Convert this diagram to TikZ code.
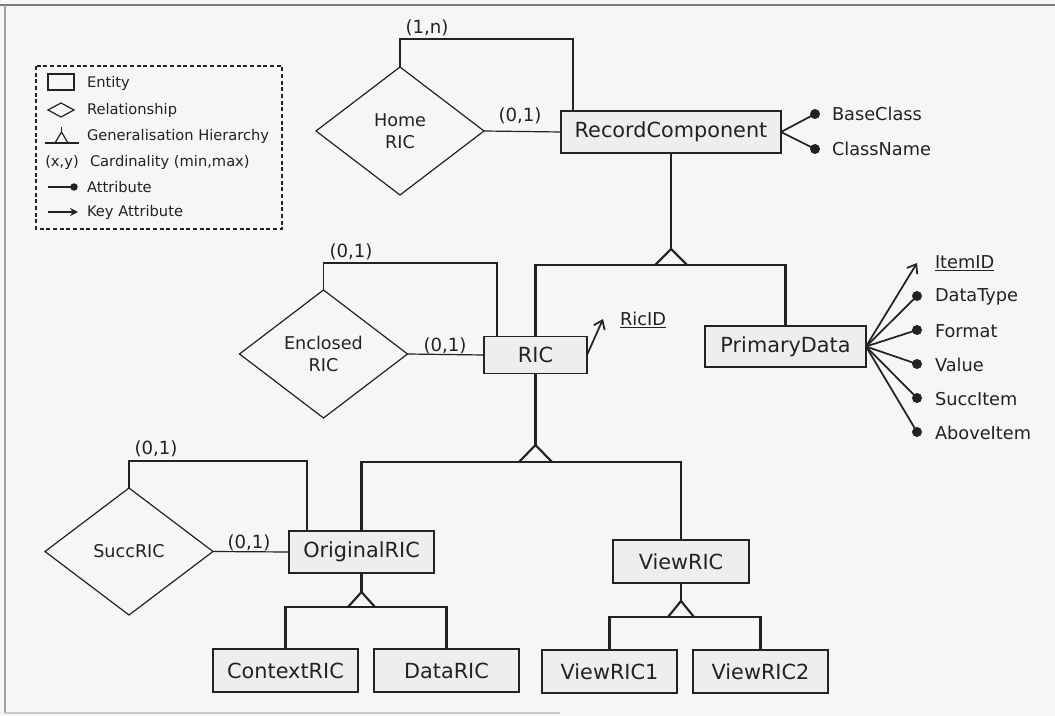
\documentclass[tikz,border=0pt]{standalone}
\usepackage{fontspec}
\setmainfont{DejaVu Sans}
\usetikzlibrary{shapes.geometric,arrows.meta}
\definecolor{ink}{HTML}{222222}
\definecolor{paper}{HTML}{F6F6F6}
\definecolor{boxfill}{HTML}{EEEEEE}
\definecolor{framegray}{HTML}{7A7A7A}
\begin{document}
\begin{tikzpicture}[x=0.75pt,y=-0.75pt,
  every node/.style={text=ink,outer sep=0pt},
  entity/.style={draw=ink,fill=boxfill,line width=1pt,inner sep=0pt,
    font=\fontsize{15.6}{18}\selectfont},
  rel/.style={diamond,draw=ink,line width=0.9pt,inner sep=0pt,aspect=1.3,
    minimum width=126pt,minimum height=96pt,align=center,
    font=\fontsize{13.2}{16.5}\selectfont},
  link/.style={draw=ink,line width=0.9pt},
  gen/.style={draw=ink,line width=1.6pt},
  attr/.style={draw=ink,line width=1.3pt},
  card/.style={font=\fontsize{13.6}{16}\selectfont,inner sep=0pt},
  attrtext/.style={font=\fontsize{13.3}{16}\selectfont,anchor=west,inner sep=0pt},
  legtext/.style={font=\fontsize{11}{13}\selectfont,anchor=west,inner sep=0pt},
  dot/.style={circle,fill=ink,inner sep=0pt,minimum size=7.5pt},
  keyarrow/.style={draw=ink,line width=1.3pt,
    -{Straight Barb[length=6pt,width=9pt,line width=1.3pt]}},
]
% page and frame
\fill[paper] (0,0) rectangle (1055,716);
\useasboundingbox (0,0) rectangle (1055,716);
\draw[framegray,line width=1.2pt] (0,5) -- (1055,5);
\draw[framegray!70,line width=1pt] (5,5) -- (5,713);
\draw[framegray!40,line width=1pt] (5,713) -- (560,713);

% legend
\draw[ink,line width=1pt,dash pattern=on 3pt off 2pt] (36,66) rectangle (282,229);
\draw[ink,line width=0.9pt] (48,74) rectangle (74,90);
\node[legtext] (lg1) at (87,83) {Entity};
\draw[ink,line width=0.9pt] (48,110) -- (61,103) -- (74,110) -- (61,117) -- cycle;
\node[legtext] (lg2) at (87,110) {Relationship};
\draw[ink,line width=0.9pt] (45,143) -- (79,143);
\draw[ink,line width=0.9pt] (55,143) -- (61.5,132) -- (68,143);
\draw[ink,line width=0.9pt] (61.5,132) -- (61.5,127);
\node[legtext] (lg3) at (87,136) {Generalisation Hierarchy};
\node[legtext,anchor=center] (lg4a) at (62,162) {(x,y)};
\node[legtext] (lg4) at (90,162) {Cardinality (min,max)};
\draw[ink,line width=1pt] (48,187) -- (74,187);
\fill[ink] (74,187) circle (2.8pt);
\node[legtext] (lg5) at (87,187) {Attribute};
\draw[ink,line width=1pt,-{Stealth[length=6pt,width=6pt]}] (48,212) -- (78,212);
\node[legtext] (lg6) at (87,212) {Key Attribute};

% RecordComponent and its Home RIC relationship
\node[entity,minimum width=165pt,minimum height=31.5pt] (rc) at (671,132) {RecordComponent};
\node[rel] (hr) at (400,131) {Home\\RIC};
\draw[link] (hr.east) -- (rc.west);
\draw[link] (hr.north) -- ++(0,-28) -| ([xshift=9pt]rc.north west);
\node[card] (c1) at (427,28) {(1,n)};
\node[card] (c2) at (520,116) {(0,1)};

\node[attrtext] (bc) at (832,114) {BaseClass};
\node[attrtext] (cn) at (832,149) {ClassName};
\node[dot] (d1) at (815,114) {};
\node[dot] (d2) at (815,149) {};
\draw[attr] (rc.east) -- (d1.center);
\draw[attr] (rc.east) -- (d2.center);

% RIC and PrimaryData
\node[entity,minimum width=77.25pt,minimum height=27.75pt] (ric) at (535.5,355) {RIC};
\node[entity,minimum width=120.75pt,minimum height=30.75pt] (pd) at (785.5,346.5) {PrimaryData};

\coordinate (g1) at (671,249);
\coordinate (h1) at (671,265);
\draw[gen] (rc.south) -- (g1);
\draw[gen] (g1) ++(-16,16) -- (g1) -- ++(16,16);
\draw[gen] (ric.north) |- (h1) -| (pd.north);

\node[attrtext] (ricid) at (620,320) {\underline{RicID}};
\coordinate (k1) at (603,319);
\draw[keyarrow] (ric.east) -- (k1);

\node[attrtext] (a1) at (935,263) {\underline{ItemID}};
\node[attrtext] (a2) at (935,297) {DataType};
\node[attrtext] (a3) at (935,331) {Format};
\node[attrtext] (a4) at (935,365) {Value};
\node[attrtext] (a5) at (935,399) {SuccItem};
\node[attrtext] (a6) at (935,433) {AboveItem};
\coordinate (k2) at (917,263);
\draw[keyarrow] (pd.east) -- (k2);
\foreach \i/\y in {2/296,3/330,4/364,5/398,6/432}{
  \node[dot] (p\i) at (917,\y) {};
  \draw[attr] (pd.east) -- (p\i.center);
}

% Enclosed RIC relationship
\node[rel] (er) at (323.5,354) {Enclosed\\RIC};
\draw[link] (er.east) -- (ric.west);
\draw[link] (er.north) -- ++(0,-27) -| ([xshift=9.75pt]ric.north west);
\node[card] (c3) at (351,252) {(0,1)};
\node[card] (c4) at (445,346) {(0,1)};

% OriginalRIC and ViewRIC
\node[entity,minimum width=108.75pt,minimum height=31.5pt] (or) at (361.5,552) {OriginalRIC};
\node[entity,minimum width=102pt,minimum height=32.25pt] (vr) at (681,561.5) {ViewRIC};

\coordinate (g2) at (535.5,445);
\coordinate (h2) at (535.5,462);
\draw[gen] (ric.south) -- (g2);
\draw[gen] (g2) ++(-16.5,17) -- (g2) -- ++(16.5,17);
\draw[gen] (or.north) |- (h2) -| (vr.north);

% SuccRIC relationship
\node[rel,minimum width=126pt,minimum height=95.25pt] (sr) at (129,551.5) {SuccRIC};
\draw[link] (sr.east) -- (or.west);
\draw[link] (sr.north) -- ++(0,-27) -| ([xshift=13.5pt]or.north west);
\node[card] (c5) at (156,449) {(0,1)};
\node[card] (c6) at (249,543) {(0,1)};

% subclasses of OriginalRIC
\node[entity,minimum width=108.75pt,minimum height=32.25pt] (cr) at (285.5,670.5) {ContextRIC};
\node[entity,minimum width=108.75pt,minimum height=32.25pt] (dr) at (446.5,670.5) {DataRIC};
\coordinate (g3) at (361.5,592);
\coordinate (h3) at (361.5,607);
\draw[gen] (or.south) -- (g3);
\draw[gen] (g3) ++(-13.5,15) -- (g3) -- ++(13.5,15);
\draw[gen] (cr.north) |- (h3) -| (dr.north);

% subclasses of ViewRIC
\node[entity,minimum width=101.25pt,minimum height=32.25pt] (v1) at (609.5,671.5) {ViewRIC1};
\node[entity,minimum width=101.25pt,minimum height=32.25pt] (v2) at (760.5,671.5) {ViewRIC2};
\coordinate (g4) at (681,601);
\coordinate (h4) at (681,617);
\draw[gen] (vr.south) -- (g4);
\draw[gen] (g4) ++(-13,16) -- (g4) -- ++(13,16);
\draw[gen] (v1.north) |- (h4) -| (v2.north);
\end{tikzpicture}
\end{document}
